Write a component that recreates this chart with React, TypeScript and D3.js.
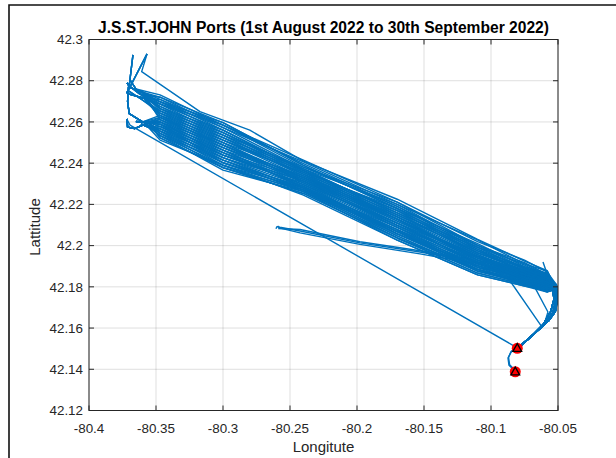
import React from "react";
import { scaleLinear, line } from "d3";

// axis ticks
const X_TICKS = [-80.4, -80.35, -80.3, -80.25, -80.2, -80.15, -80.1, -80.05];
const X_LABELS = ["-80.4", "-80.35", "-80.3", "-80.25", "-80.2", "-80.15", "-80.1", "-80.05"];
const Y_TICKS = [42.12, 42.14, 42.16, 42.18, 42.2, 42.22, 42.24, 42.26, 42.28, 42.3];
const Y_LABELS = ["42.12", "42.14", "42.16", "42.18", "42.2", "42.22", "42.24", "42.26", "42.28", "42.3"];

const BAND_LON = [-80.347, -80.3, -80.24, -80.17, -80.11, -80.075, -80.058];

// north-west ends of the passes (west -> east)
const WEST_HOOKS: [number, number][][] = [
  [[-80.3716, 42.279], [-80.3695, 42.2768], [-80.36, 42.2745]],
  [[-80.3722, 42.2745], [-80.37, 42.2735], [-80.359, 42.2715]],
  [[-80.3672, 42.2925], [-80.37, 42.2775], [-80.362, 42.2735]],
  [[-80.3567, 42.293], [-80.3708, 42.2752], [-80.361, 42.271]],
  [[-80.3716, 42.2615], [-80.3712, 42.2575], [-80.366, 42.2568], [-80.358, 42.259]],
  [[-80.365, 42.2602], [-80.356, 42.2598]],
  [[-80.3705, 42.277], [-80.3712, 42.27], [-80.37, 42.264], [-80.36, 42.26]],
  [[-80.369, 42.28], [-80.365, 42.276]],
  [[-80.3612, 42.259], [-80.354, 42.257]],
];

// east turn and run into port
const EAST_HOOKS: [number, number][][] = [
  [[-80.0525, 42.1805], [-80.051, 42.175], [-80.0525, 42.169], [-80.058, 42.163], [-80.069, 42.1565], [-80.08, 42.1503]],
  [[-80.0518, 42.1795], [-80.0506, 42.174], [-80.052, 42.168], [-80.057, 42.1635], [-80.07, 42.156], [-80.0798, 42.1505]],
  [[-80.053, 42.1785], [-80.052, 42.1725], [-80.054, 42.1668], [-80.0595, 42.1622], [-80.0705, 42.1556], [-80.0803, 42.15]],
  [[-80.0512, 42.181], [-80.0506, 42.176], [-80.0512, 42.1705]],
  [[-80.054, 42.179], [-80.053, 42.174], [-80.0555, 42.168], [-80.061, 42.1618], [-80.0712, 42.1552], [-80.0801, 42.1502]],
];

// [west hook, latitudes at BAND_LON, east hook]
const PASSES: [number, number[], number][] = [
  [7, [42.2731, 42.2585, 42.2415, 42.2211, 42.2019, 42.193, 42.1871], 3],
  [0, [42.2709, 42.2585, 42.2381, 42.2211, 42.2001, 42.1917, 42.1861], 0],
  [1, [42.2687, 42.2536, 42.2381, 42.219, 42.1983, 42.1892, 42.1861], 1],
  [2, [42.2665, 42.256, 42.2364, 42.217, 42.2001, 42.1892, 42.1839], 2],
  [3, [42.2643, 42.2512, 42.2364, 42.2149, 42.1965, 42.188, 42.185], 0],
  [6, [42.2622, 42.2512, 42.2347, 42.2129, 42.1948, 42.188, 42.1829], 4],
  [4, [42.2622, 42.2463, 42.233, 42.2129, 42.193, 42.1867, 42.1818], 1],
  [5, [42.26, 42.2488, 42.2313, 42.2109, 42.1948, 42.1854, 42.1818], 2],
  [8, [42.2578, 42.2439, 42.2313, 42.2088, 42.1912, 42.1842, 42.1807], 0],
  [4, [42.2556, 42.2439, 42.2296, 42.2068, 42.1894, 42.1842, 42.1796], 3],
  [5, [42.2556, 42.2415, 42.2279, 42.2068, 42.1876, 42.1829, 42.1796], 1],
  [8, [42.2534, 42.239, 42.2262, 42.2047, 42.1876, 42.1817, 42.1786], 4],
  [4, [42.2512, 42.239, 42.2245, 42.2027, 42.1858, 42.1804, 42.1775], 2],
  [0, [42.2687, 42.2585, 42.2398, 42.219, 42.2001, 42.1905, 42.185], 1],
  [1, [42.2643, 42.2488, 42.233, 42.2149, 42.1983, 42.1867, 42.1839], 0],
  [6, [42.26, 42.2463, 42.2296, 42.2109, 42.1912, 42.1854, 42.1829], 2],
  [5, [42.2578, 42.2415, 42.2279, 42.2088, 42.193, 42.1829, 42.1807], 4],
  [4, [42.2534, 42.2366, 42.2262, 42.2068, 42.1894, 42.1817, 42.1786], 0],
  [0, [42.2665, 42.2536, 42.2347, 42.217, 42.1965, 42.1892, 42.185], 3],
  [1, [42.2709, 42.256, 42.2364, 42.2149, 42.1965, 42.188, 42.1829], 1],
  [8, [42.2622, 42.2488, 42.2313, 42.2109, 42.193, 42.1854, 42.1818], 2],
  [5, [42.2556, 42.239, 42.2279, 42.2047, 42.1876, 42.1817, 42.1775], 0],
  [6, [42.26, 42.2439, 42.2296, 42.2088, 42.1894, 42.1842, 42.1807], 1],
  [7, [42.2643, 42.2536, 42.2347, 42.2129, 42.1948, 42.1867, 42.1839], 4],
  [2, [42.2687, 42.256, 42.2364, 42.217, 42.1965, 42.188, 42.1839], 0],
  [8, [42.2578, 42.2463, 42.2279, 42.2068, 42.1912, 42.1829, 42.1796], 2],
  [4, [42.2534, 42.2415, 42.2262, 42.2027, 42.1858, 42.1804, 42.1786], 1],
  [0, [42.2665, 42.2512, 42.233, 42.2129, 42.1948, 42.1867, 42.1829], 0],
  [1, [42.2622, 42.2488, 42.233, 42.2109, 42.1948, 42.1854, 42.1818], 3],
  [5, [42.26, 42.2439, 42.2313, 42.2129, 42.193, 42.1867, 42.1829], 4],
  [0, [42.272, 42.2572, 42.2406, 42.22, 42.2028, 42.1911, 42.1876], 1],
  [7, [42.2698, 42.2597, 42.2389, 42.218, 42.201, 42.1898, 42.1866], 0],
  [1, [42.2676, 42.2548, 42.2355, 42.218, 42.1974, 42.1898, 42.1844], 2],
  [3, [42.2654, 42.2524, 42.2372, 42.2159, 42.1992, 42.1886, 42.1855], 4],
  [6, [42.2632, 42.2524, 42.2338, 42.2139, 42.1956, 42.1873, 42.1834], 1],
  [4, [42.2611, 42.2475, 42.2338, 42.2119, 42.1939, 42.186, 42.1823], 0],
  [5, [42.2589, 42.2475, 42.2304, 42.2098, 42.1921, 42.1848, 42.1812], 2],
  [8, [42.2567, 42.2427, 42.2287, 42.2078, 42.1921, 42.1835, 42.1801], 1],
  [4, [42.2545, 42.2402, 42.227, 42.2057, 42.1885, 42.1823, 42.1791], 4],
  [5, [42.2523, 42.2378, 42.2253, 42.2037, 42.1867, 42.181, 42.178], 0],
  [2, [42.2698, 42.2548, 42.2372, 42.22, 42.1992, 42.1911, 42.1855], 3],
  [0, [42.2654, 42.25, 42.2355, 42.2139, 42.1974, 42.1873, 42.1844], 2],
  [6, [42.2611, 42.2451, 42.2321, 42.2139, 42.1939, 42.1873, 42.1823], 1],
  [8, [42.2589, 42.2451, 42.2287, 42.2078, 42.1903, 42.1848, 42.1812], 0],
  [4, [42.2567, 42.2402, 42.2287, 42.2057, 42.1903, 42.1823, 42.1791], 2],
  [5, [42.2545, 42.2378, 42.227, 42.2037, 42.1867, 42.181, 42.178], 4],
  [1, [42.2632, 42.2475, 42.2321, 42.2119, 42.1956, 42.186, 42.1834], 0],
  [7, [42.2676, 42.2524, 42.2338, 42.2159, 42.1992, 42.1886, 42.1844], 1],
  [6, [42.2589, 42.2427, 42.2304, 42.2098, 42.1939, 42.1848, 42.1801], 3],
  [0, [42.2611, 42.25, 42.2321, 42.2098, 42.1921, 42.186, 42.1812], 2],
  [8, [42.2567, 42.2451, 42.2287, 42.2057, 42.1885, 42.1835, 42.1801], 4],
  [4, [42.2545, 42.2427, 42.227, 42.2078, 42.1885, 42.1823, 42.178], 0],
  [5, [42.2523, 42.2378, 42.2253, 42.2037, 42.1885, 42.181, 42.1791], 1],
  [3, [42.2654, 42.2548, 42.2355, 42.2139, 42.1939, 42.1873, 42.1834], 0],
  [2, [42.272, 42.2597, 42.2389, 42.218, 42.1974, 42.1886, 42.1844], 2],
  [1, [42.2632, 42.25, 42.2304, 42.2098, 42.1921, 42.1835, 42.1812], 4],
  [6, [42.2589, 42.2402, 42.227, 42.2057, 42.1903, 42.1823, 42.1791], 0],
  [0, [42.2698, 42.2572, 42.2372, 42.2159, 42.1956, 42.186, 42.1823], 1],
];

// odd tracks outside the main lane
const EXTRA_TRACKS: [number, number][][] = [
  // spike and the top edge line
  [[-80.3567, 42.293], [-80.3607, 42.2844], [-80.3172, 42.265], [-80.28, 42.256], [-80.24, 42.241],
   [-80.17, 42.2225], [-80.11, 42.203], [-80.075, 42.1925], [-80.058, 42.1878], [-80.0525, 42.18],
   [-80.051, 42.1745], [-80.0525, 42.1688], [-80.0585, 42.1628], [-80.0695, 42.1562], [-80.08, 42.1503]],
  // straight run from the north-west to port
  [[-80.3716, 42.2612], [-80.3694, 42.2585], [-80.0801, 42.1503]],
  // the three from the loop near -80.26
  [[-80.2605, 42.2082], [-80.2597, 42.2092], [-80.2575, 42.2089], [-80.2425, 42.2071], [-80.1978, 42.2013],
   [-80.153, 42.1969], [-80.1231, 42.1935], [-80.0933, 42.1882], [-80.0672, 42.1819], [-80.0545, 42.1785],
   [-80.052, 42.173], [-80.0545, 42.1672], [-80.06, 42.162], [-80.0705, 42.1556], [-80.0802, 42.1501]],
  [[-80.2592, 42.2096], [-80.258, 42.2086], [-80.2425, 42.2062], [-80.1978, 42.2006], [-80.153, 42.196],
   [-80.1231, 42.1925], [-80.0933, 42.1873], [-80.0672, 42.1812], [-80.055, 42.1778]],
  [[-80.2588, 42.2083], [-80.2425, 42.2078], [-80.1978, 42.2019], [-80.153, 42.1975], [-80.1231, 42.1942],
   [-80.0933, 42.189], [-80.0672, 42.1826], [-80.0538, 42.1795]],
  // cut-offs from the lane bottom towards port
  [[-80.17, 42.2075], [-80.11, 42.1885], [-80.0873, 42.1843], [-80.0619, 42.1605], [-80.07, 42.1558], [-80.08, 42.1503]],
  [[-80.0933, 42.1885], [-80.0694, 42.1823], [-80.0575, 42.1678], [-80.06, 42.1625]],
  [[-80.0612, 42.192], [-80.056, 42.1823], [-80.0535, 42.177]],
  // between the two port positions
  [[-80.0804, 42.1502], [-80.0851, 42.1483], [-80.0873, 42.1454], [-80.0866, 42.142], [-80.0828, 42.1396], [-80.0819, 42.1388]],
  [[-80.0802, 42.1505], [-80.0848, 42.1488], [-80.0869, 42.1458], [-80.0861, 42.1422], [-80.0824, 42.1398], [-80.0817, 42.139]],
];

const PORTS: [number, number][] = [[-80.0804, 42.1502], [-80.0819, 42.1388]];

const W = 616;
const H = 458;
const LEFT = 89;
const RIGHT = 558;
const TOP = 39.5;
const BOTTOM = 410.5;
const AX = "#262626";
const FONT = "'Liberation Sans', Arial, Helvetica, sans-serif";

export default function App() {
  const x = scaleLinear().domain([-80.4, -80.05]).range([LEFT, RIGHT]);
  const y = scaleLinear().domain([42.12, 42.3]).range([BOTTOM, TOP]);
  const path = line<[number, number]>()
    .x(d => x(d[0]))
    .y(d => y(d[1]));

  const tracks: [number, number][][] = PASSES.map(([w, lats, e]) => [
    ...WEST_HOOKS[w],
    ...BAND_LON.map((lon, i) => [lon, lats[i]] as [number, number]),
    ...EAST_HOOKS[e],
  ]).concat(EXTRA_TRACKS);

  const TL = 5;

  return (
    <div style={{ position: "fixed", left: 0, top: 0 }}>
      <svg width={W} height={H} style={{ display: "block", background: "#fff" }}>
        <defs>
          <clipPath id="plot">
            <rect x={LEFT} y={TOP} width={RIGHT - LEFT} height={BOTTOM - TOP} />
          </clipPath>
        </defs>

        {/* window frame */}
        <path d={`M9,${H} V5 H${W}`} fill="none" stroke="#111" strokeWidth={1.6} />

        {/* grid */}
        <g stroke={AX} strokeOpacity={0.15} strokeWidth={1}>
          {X_TICKS.map(v => (
            <line key={v} x1={x(v)} x2={x(v)} y1={TOP} y2={BOTTOM} />
          ))}
          {Y_TICKS.map(v => (
            <line key={v} x1={LEFT} x2={RIGHT} y1={y(v)} y2={y(v)} />
          ))}
        </g>

        {/* tracks */}
        <g clipPath="url(#plot)" fill="none" stroke="#0072BD" strokeWidth={1.4} strokeLinejoin="round">
          {tracks.map((t, i) => (
            <path key={i} d={path(t)!} />
          ))}
        </g>

        {/* port positions */}
        {PORTS.map(([lon, lat], i) => (
          <g key={i} transform={`translate(${x(lon)},${y(lat)})`}>
            <circle r={5.5} fill="#ff0000" />
            <path d="M0,-4.6 L4.4,3.2 L-4.4,3.2 Z" fill="#ff0000" stroke="#000" strokeWidth={1.3} />
          </g>
        ))}

        {/* axes box */}
        <rect x={LEFT} y={TOP} width={RIGHT - LEFT} height={BOTTOM - TOP} fill="none" stroke={AX} strokeWidth={1} />
        <g stroke={AX} strokeWidth={1}>
          {X_TICKS.map(v => (
            <g key={v}>
              <line x1={x(v)} x2={x(v)} y1={BOTTOM} y2={BOTTOM - TL} />
              <line x1={x(v)} x2={x(v)} y1={TOP} y2={TOP + TL} />
            </g>
          ))}
          {Y_TICKS.map(v => (
            <g key={v}>
              <line x1={LEFT} x2={LEFT + TL} y1={y(v)} y2={y(v)} />
              <line x1={RIGHT} x2={RIGHT - TL} y1={y(v)} y2={y(v)} />
            </g>
          ))}
        </g>

        <g fontFamily={FONT} fontSize={13.4} fill={AX}>
          {X_TICKS.map((v, i) => (
            <text key={v} x={x(v)} y={433} textAnchor="middle">
              {X_LABELS[i]}
            </text>
          ))}
          {Y_TICKS.map((v, i) => (
            <text key={v} x={LEFT - 6} y={y(v)} dy="0.35em" textAnchor="end">
              {Y_LABELS[i]}
            </text>
          ))}
        </g>

        <text x={(LEFT + RIGHT) / 2} y={452} textAnchor="middle" fontFamily={FONT} fontSize={15} fill={AX}>
          Longitute
        </text>
        <text
          transform={`translate(40,227) rotate(-90)`}
          textAnchor="middle"
          fontFamily={FONT}
          fontSize={15}
          fill={AX}
        >
          Lattitude
        </text>
        <text
          x={(LEFT + RIGHT) / 2}
          y={33}
          textAnchor="middle"
          fontFamily={FONT}
          fontSize={15.6}
          fontWeight="bold"
          fill="#000"
        >
          J.S.ST.JOHN Ports (1st August 2022 to 30th September 2022)
        </text>
      </svg>
    </div>
  );
}
